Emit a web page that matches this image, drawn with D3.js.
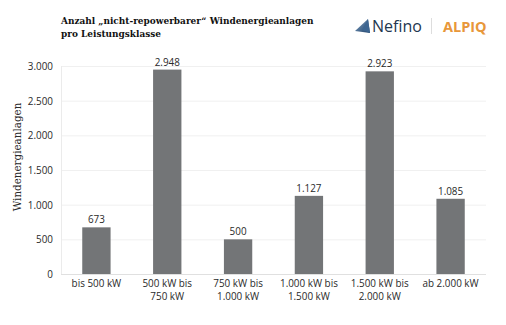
<!DOCTYPE html>
<html>
<head>
<meta charset="utf-8">
<script src="https://cdn.jsdelivr.net/npm/d3@7"></script>
<style>
  html, body { margin: 0; padding: 0; background: #ffffff; }
  svg { display: block; }
</style>
</head>
<body>
<svg id="chart" width="506" height="325"></svg>
<script>
// Leistungsklassen and number of non-repowerable wind turbines per class
const categories = [
  ["bis 500 kW"],
  ["500 kW bis", "750 kW"],
  ["750 kW bis", "1.000 kW"],
  ["1.000 kW bis", "1.500 kW"],
  ["1.500 kW bis", "2.000 kW"],
  ["ab 2.000 kW"]
];
const values = [673, 2948, 500, 1127, 2923, 1085];
const yTicks = [0, 500, 1000, 1500, 2000, 2500, 3000];
const titleLines = ["Anzahl \u201Enicht-repowerbarer\u201C Windenergieanlagen", "pro Leistungsklasse"];
const yTitle = "Windenergieanlagen";

const svg = d3.select("#chart");
const margin = { top: 66, right: 20, bottom: 51, left: 61 };
const width = 506 - margin.left - margin.right;
const height = 325 - margin.top - margin.bottom;

const fmt = d3.formatLocale({ decimal: ",", thousands: ".", grouping: [3], currency: ["", "€"] }).format(",d");

const textColor = "#2a2a2a";
const font = "'Open Sans', 'Noto Sans', sans-serif";
const titleFont = "'DejaVu Serif Condensed', 'DejaVu Serif', serif";

// pick font sizes so that sample strings get the intended widths
function fitSize(str, family, weight, targetWidth) {
  const t = svg.append("text")
    .attr("font-family", family).attr("font-weight", weight)
    .attr("font-size", 20).text(str);
  const w = t.node().getComputedTextLength();
  t.remove();
  return 20 * targetWidth / w;
}
const labelSize = fitSize("1.500 kW bis", font, "normal", 58);
const titleSize = fitSize(titleLines[0], titleFont, "bold", 253);

const x = d3.scaleBand()
  .domain(d3.range(categories.length))
  .range([0, width])
  .paddingInner(0.6)
  .paddingOuter(0.3);

const y = d3.scaleLinear().domain([0, 3000]).range([height, 0]);

const g = svg.append("g").attr("transform", `translate(${margin.left},${margin.top})`);

// horizontal gridlines
g.append("g")
  .selectAll("line")
  .data(yTicks)
  .join("line")
  .attr("x1", 0).attr("x2", width)
  .attr("y1", d => y(d) + 0.5).attr("y2", d => y(d) + 0.5)
  .attr("stroke", d => d === 0 ? "#e0e0e0" : "#f0f0f0")
  .attr("stroke-width", 1);

// left axis line
g.append("line")
  .attr("x1", 0.5).attr("x2", 0.5)
  .attr("y1", y(3000)).attr("y2", y(0))
  .attr("stroke", "#ebebeb");

// y tick labels
g.append("g")
  .selectAll("text")
  .data(yTicks)
  .join("text")
  .attr("x", -8)
  .attr("y", d => y(d) + 4)
  .attr("text-anchor", "end")
  .attr("font-family", font)
  .attr("font-size", labelSize)
  .attr("fill", textColor)
  .text(d => fmt(d));

// bars
g.append("g")
  .selectAll("rect")
  .data(values)
  .join("rect")
  .attr("x", (d, i) => x(i))
  .attr("y", d => y(d))
  .attr("width", x.bandwidth())
  .attr("height", d => height - y(d))
  .attr("fill", "#737577");

// value labels
g.append("g")
  .selectAll("text")
  .data(values)
  .join("text")
  .attr("x", (d, i) => x(i) + x.bandwidth() / 2)
  .attr("y", d => y(d) - 4)
  .attr("text-anchor", "middle")
  .attr("font-family", font)
  .attr("font-size", labelSize)
  .attr("fill", textColor)
  .text(d => fmt(d));

// category labels (one or two lines)
const catG = g.append("g")
  .selectAll("text")
  .data(categories)
  .join("text")
  .attr("x", (d, i) => x(i) + x.bandwidth() / 2)
  .attr("y", height + 13)
  .attr("text-anchor", "middle")
  .attr("font-family", font)
  .attr("font-size", labelSize)
  .attr("fill", textColor);
catG.selectAll("tspan")
  .data(d => d)
  .join("tspan")
  .attr("x", function () { return d3.select(this.parentNode).attr("x"); })
  .attr("dy", (d, i) => i === 0 ? 0 : 12.5)
  .text(d => d);

// y axis title
svg.append("text")
  .attr("transform", "translate(21,157) rotate(-90)")
  .attr("text-anchor", "middle")
  .attr("font-family", "'DejaVu Serif Condensed', 'DejaVu Serif', serif")
  .attr("font-size", 11.5)
  .attr("fill", textColor)
  .text(yTitle);

// title
svg.append("text")
  .attr("x", 61)
  .attr("y", 24)
  .attr("font-family", titleFont)
  .attr("font-weight", "bold")
  .attr("font-size", titleSize)
  .attr("fill", "#111111")
  .selectAll("tspan")
  .data(titleLines)
  .join("tspan")
  .attr("x", 61)
  .attr("dy", (d, i) => i === 0 ? 0 : 12.5)
  .text(d => d);

// logos
const logo = svg.append("g");
const defs = svg.append("defs");
const grad = defs.append("linearGradient").attr("id", "nefGrad")
  .attr("x1", "0").attr("y1", "0").attr("x2", "1").attr("y2", "1");
grad.append("stop").attr("offset", "0").attr("stop-color", "#7fa3c6");
grad.append("stop").attr("offset", "1").attr("stop-color", "#1f3f66");
logo.append("path")
  .attr("d", "M368,19 L355,31 L370,33 Z")
  .attr("fill", "url(#nefGrad)");
logo.append("path")
  .attr("d", "M368,19 L362,30 L370,33 Z")
  .attr("fill", "#3d6591");
logo.append("text")
  .attr("x", 372).attr("y", 32)
  .attr("font-family", "'Open Sans', sans-serif")
  .attr("font-size", 16)
  .attr("fill", "#23374f")
  .text("Nefino");
logo.append("line")
  .attr("x1", 431.5).attr("x2", 431.5).attr("y1", 18).attr("y2", 34)
  .attr("stroke", "#dddddd");
logo.append("text")
  .attr("x", 443).attr("y", 32)
  .attr("font-family", "'Open Sans', sans-serif")
  .attr("font-weight", "bold")
  .attr("font-size", 14.5)
  .attr("fill", "#e8973a")
  .text("ALPIQ");
</script>
</body>
</html>
